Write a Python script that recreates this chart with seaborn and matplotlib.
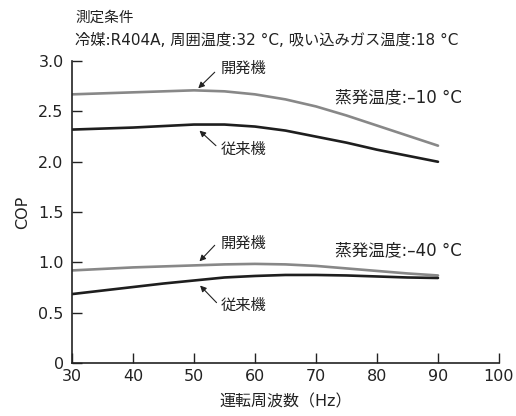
import matplotlib
matplotlib.use("Agg")
import matplotlib.pyplot as plt
import seaborn as sns
import pandas as pd

# 運転周波数 (Hz)
freq = [30, 35, 40, 45, 50, 55, 60, 65, 70, 75, 80, 85, 90]

# 蒸発温度 -10 ℃
dev_m10 = [2.67, 2.68, 2.69, 2.70, 2.71, 2.70, 2.67, 2.62, 2.55, 2.46, 2.36, 2.26, 2.16]
old_m10 = [2.32, 2.33, 2.34, 2.355, 2.37, 2.37, 2.35, 2.31, 2.25, 2.19, 2.12, 2.06, 2.00]
# 蒸発温度 -40 ℃
dev_m40 = [0.92, 0.935, 0.95, 0.96, 0.97, 0.98, 0.985, 0.98, 0.965, 0.94, 0.915, 0.89, 0.87]
old_m40 = [0.685, 0.72, 0.755, 0.79, 0.82, 0.85, 0.865, 0.875, 0.875, 0.87, 0.86, 0.85, 0.845]

x_ticks = [30, 40, 50, 60, 70, 80, 90, 100]
y_ticks = [0, 0.5, 1.0, 1.5, 2.0, 2.5, 3.0]
y_ticklabels = ["0", "0.5", "1.0", "1.5", "2.0", "2.5", "3.0"]

series = {"dev_m10": dev_m10, "old_m10": old_m10, "dev_m40": dev_m40, "old_m40": old_m40}
rows = []
for name, vals in series.items():
    for f, v in zip(freq, vals):
        rows.append({"Hz": f, "COP": v, "line": name})
df = pd.DataFrame(rows)

sns.set_style("ticks")
plt.rcParams['font.family'] = ['DejaVu Sans', 'Noto Sans CJK JP']
txt = "#222222"

fig = plt.figure(figsize=(5.16, 4.16), dpi=100)
ax = fig.add_axes([0.1395, 0.1274, 0.8275, 0.7256])

pal = {"dev_m10": "#888888", "old_m10": "#1e1e1e", "dev_m40": "#888888", "old_m40": "#1e1e1e"}
sns.lineplot(data=df, x="Hz", y="COP", hue="line", palette=pal, linewidth=1.9,
             legend=False, ax=ax)

ax.set_xlim(30, 100)
ax.set_ylim(0, 3.0)
ax.set_xticks(x_ticks)
ax.set_yticks(y_ticks)
ax.set_yticklabels(y_ticklabels)
ax.tick_params(axis="both", direction="in", length=7, width=1, colors="#222222",
               labelsize=11.5, labelcolor=txt, pad=4)
ax.tick_params(axis="y", pad=6)
for s in ["top", "right"]:
    ax.spines[s].set_visible(False)
for s in ["left", "bottom"]:
    ax.spines[s].set_color("#222222")
    ax.spines[s].set_linewidth(1.2)

ax.set_xlabel("運転周波数（Hz）", fontsize=11.5, color=txt, labelpad=8)
ax.set_ylabel("COP", fontsize=11.5, color=txt, labelpad=6)

# 開発機 / 従来機 の矢印
arr = dict(arrowstyle="-|>", color="#222222", lw=0.8, mutation_scale=9, shrinkA=0, shrinkB=0)
ax.annotate("", xy=(50.7, 2.73), xytext=(53.4, 2.89), arrowprops=arr)
ax.annotate("", xy=(50.9, 2.31), xytext=(53.6, 2.16), arrowprops=arr)
ax.annotate("", xy=(50.9, 1.01), xytext=(53.4, 1.17), arrowprops=arr)
ax.annotate("", xy=(51.0, 0.77), xytext=(53.7, 0.60), arrowprops=arr)

ax.text(54.4, 2.93, "開発機", fontsize=11, color=txt, va="center", ha="left")
ax.text(54.4, 2.12, "従来機", fontsize=11, color=txt, va="center", ha="left")
ax.text(54.4, 1.19, "開発機", fontsize=11, color=txt, va="center", ha="left")
ax.text(54.4, 0.57, "従来機", fontsize=11, color=txt, va="center", ha="left")

ax.text(73.2, 2.64, "蒸発温度:–10 °C", fontsize=12, color=txt, va="center", ha="left")
ax.text(73.1, 1.12, "蒸発温度:–40 °C", fontsize=12, color=txt, va="center", ha="left")

fig.text(75 / 516, 1 - 17.5 / 416, "測定条件", fontsize=10.5, color=txt, va="center", ha="left")
fig.text(75 / 516, 1 - 40 / 416, "冷媒:R404A, 周囲温度:32 °C, 吸い込みガス温度:18 °C",
         fontsize=11, color=txt, va="center", ha="left")

fig.savefig("out.png", dpi=100)
